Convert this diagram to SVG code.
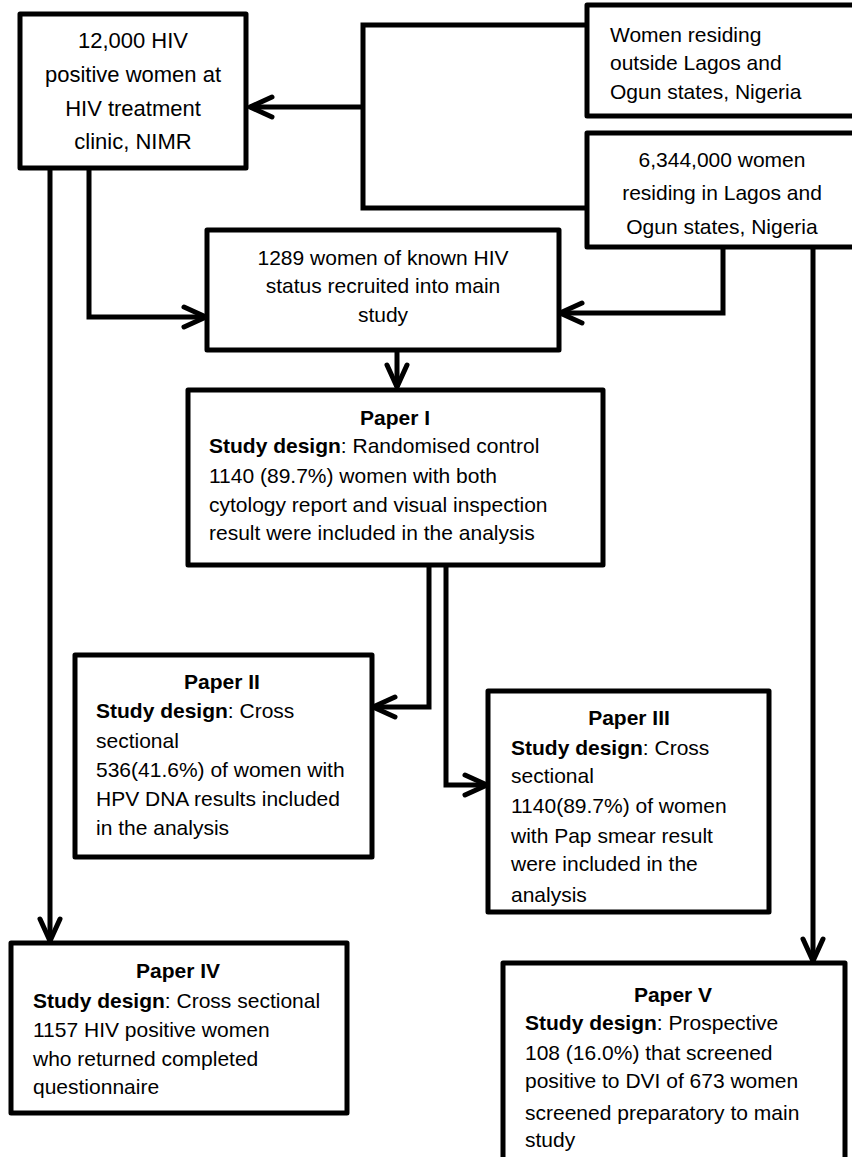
<svg xmlns="http://www.w3.org/2000/svg" width="852" height="1157" viewBox="0 0 852 1157">
<style>
.box{fill:#fff;stroke:#000;stroke-width:5;stroke-linejoin:round}
.t{font-family:"Liberation Sans",Arial,sans-serif;font-size:21px;fill:#000}
.ta{font-size:22px}
.c{text-anchor:middle}
.b{font-weight:bold}
.conn path{fill:none;stroke:#000;stroke-width:5;stroke-linejoin:miter}
</style>
<defs>
<marker id="ah" markerUnits="userSpaceOnUse" markerWidth="40" markerHeight="40" viewBox="-30 -20 40 40" refX="0" refY="0" orient="auto" overflow="visible">
<path d="M-22,-10 L0,0 L-22,10" fill="none" stroke="#000" stroke-width="5" stroke-linecap="round" stroke-linejoin="round"/>
</marker>
<clipPath id="clipC"><rect x="590" y="136" width="262" height="102"/></clipPath>
<clipPath id="clipV"><rect x="506" y="966" width="337" height="185"/></clipPath>
</defs>
<rect width="852" height="1157" fill="#fff"/>

<g class="conn" id="connectors">
<path d="M587,25 H363 V208 H587"/>
<path d="M363,107 H250" marker-end="url(#ah)"/>
<path d="M89,168 V317 H206" marker-end="url(#ah)"/>
<path d="M723,247 V313 H560" marker-end="url(#ah)"/>
<path d="M397,350 V387" marker-end="url(#ah)"/>
<path d="M50,168 V941" marker-end="url(#ah)"/>
<path d="M813,247 V961" marker-end="url(#ah)"/>
<path d="M429,565 V707 H373" marker-end="url(#ah)"/>
<path d="M446,565 V785 H487" marker-end="url(#ah)"/>
</g>

<g id="nimr">
<rect class="box" x="20" y="14" width="226" height="154"/>
<text class="t ta c" x="133" y="48">12,000 HIV</text>
<text class="t ta c" x="133" y="82">positive women at</text>
<text class="t ta c" x="133" y="116">HIV treatment</text>
<text class="t ta c" x="133" y="149">clinic, NIMR</text>
</g>

<g id="outside">
<rect class="box" x="587" y="5" width="300" height="111"/>
<text class="t" x="610" y="42">Women residing</text>
<text class="t" x="610" y="70">outside Lagos and</text>
<text class="t" x="610" y="99">Ogun states, Nigeria</text>
</g>

<g id="lagos">
<rect class="box" x="587" y="133" width="300" height="114"/>
<g clip-path="url(#clipC)">
<text class="t c" x="722" y="167">6,344,000 women</text>
<text class="t c" x="722" y="200">residing in Lagos and</text>
<text class="t c" x="722" y="234">Ogun states, Nigeria</text>
</g>
</g>

<g id="main">
<rect class="box" x="207" y="230" width="352" height="120"/>
<text class="t c" x="383" y="265">1289 women of known HIV</text>
<text class="t c" x="383" y="293">status recruited into main</text>
<text class="t c" x="383" y="322">study</text>
</g>

<g id="paper1">
<rect class="box" x="188" y="390" width="415" height="175"/>
<text class="t c b" x="395" y="425">Paper I</text>
<text class="t" x="209" y="453"><tspan class="b">Study design</tspan>: Randomised control</text>
<text class="t" x="209" y="483">1140 (89.7%) women with both</text>
<text class="t" x="209" y="512">cytology report and visual inspection</text>
<text class="t" x="209" y="540">result were included in the analysis</text>
</g>

<g id="paper2">
<rect class="box" x="75" y="655" width="297" height="202"/>
<text class="t c b" x="222" y="689">Paper II</text>
<text class="t" x="96" y="718"><tspan class="b">Study design</tspan>: Cross</text>
<text class="t" x="96" y="748">sectional</text>
<text class="t" x="96" y="777">536(41.6%) of women with</text>
<text class="t" x="96" y="806">HPV DNA results included</text>
<text class="t" x="96" y="835">in the analysis</text>
</g>

<g id="paper3">
<rect class="box" x="488" y="691" width="281" height="221"/>
<text class="t c b" x="629" y="725">Paper III</text>
<text class="t" x="511" y="755"><tspan class="b">Study design</tspan>: Cross</text>
<text class="t" x="511" y="783">sectional</text>
<text class="t" x="511" y="813">1140(89.7%) of women</text>
<text class="t" x="511" y="843">with Pap smear result</text>
<text class="t" x="511" y="871">were included in the</text>
<text class="t" x="511" y="902">analysis</text>
</g>

<g id="paper4">
<rect class="box" x="11" y="943" width="336" height="170"/>
<text class="t c b" x="178" y="978">Paper IV</text>
<text class="t" x="33" y="1008"><tspan class="b">Study design</tspan>: Cross sectional</text>
<text class="t" x="33" y="1037">1157 HIV positive women</text>
<text class="t" x="33" y="1066">who returned completed</text>
<text class="t" x="33" y="1094">questionnaire</text>
</g>

<g id="paper5">
<rect class="box" x="503" y="963" width="342" height="210"/>
<g clip-path="url(#clipV)">
<text class="t c b" x="673" y="1002">Paper V</text>
<text class="t" x="525" y="1030"><tspan class="b">Study design</tspan>: Prospective</text>
<text class="t" x="525" y="1060">108 (16.0%) that screened</text>
<text class="t" x="525" y="1088">positive to DVI of 673 women</text>
<text class="t" x="525" y="1120">screened preparatory to main</text>
<text class="t" x="525" y="1147">study</text>
</g>
</g>
</svg>
